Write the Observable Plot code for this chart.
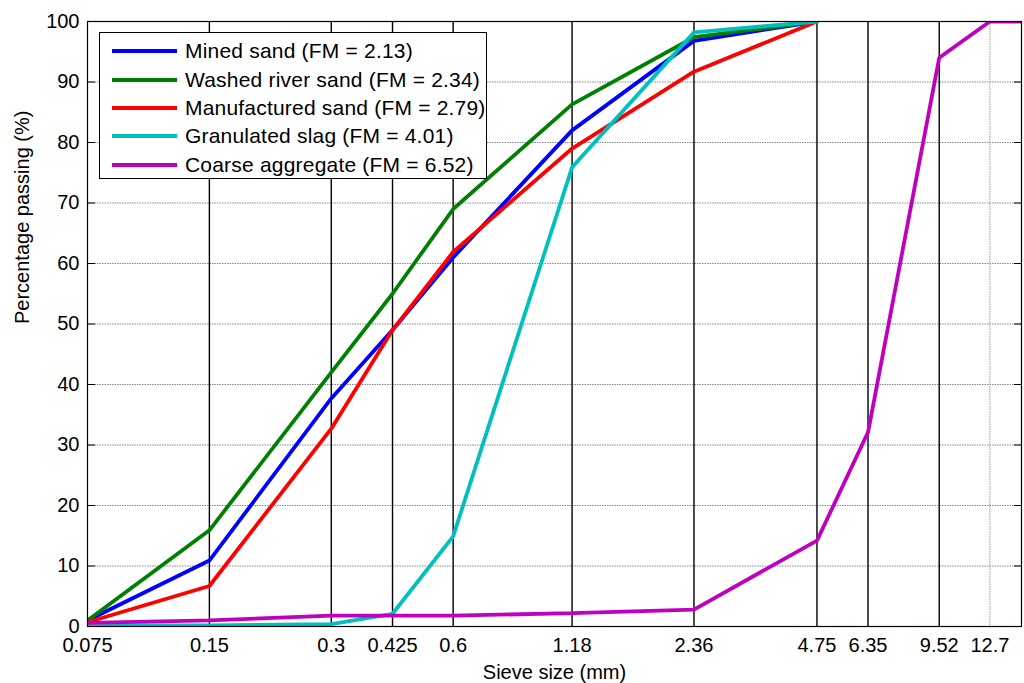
<!DOCTYPE html>
<html>
<head>
<meta charset="utf-8">
<script src="https://cdn.jsdelivr.net/npm/d3@7"></script>
<script src="https://cdn.jsdelivr.net/npm/@observablehq/plot@0.6"></script>
<style>
  html, body { margin: 0; padding: 0; background: #fff; }
  #wrap { position: relative; width: 1024px; height: 683px; font-family: "Liberation Sans", Arial, sans-serif; }
  #legend { position: absolute; left: 99px; top: 32px; width: 388px; height: 147px; border: 1px solid #000; background: #fff; box-sizing: border-box; }
  .row { position: absolute; left: 0; height: 28px; display: flex; align-items: center; }
  .sw { width: 65px; height: 4px; margin-left: 12px; margin-right: 8px; }
  .lab { font-size: 21px; color: #000; white-space: nowrap; letter-spacing: 0.2px; }
</style>
</head>
<body>
<div id="wrap"></div>
<script>
// ---- data ----
const sieveSizes = [0.075, 0.15, 0.3, 0.425, 0.6, 1.18, 2.36, 4.75];
const coarseSizes = [0.075, 0.15, 0.3, 0.425, 0.6, 1.18, 2.36, 4.75, 6.35, 9.52, 12.7, 19];
const xTicks = [0.075, 0.15, 0.3, 0.425, 0.6, 1.18, 2.36, 4.75, 6.35, 9.52, 12.7];
const yTicks = [0, 10, 20, 30, 40, 50, 60, 70, 80, 90, 100];

const minedSand     = [1.0, 10.9, 37.7, 49.0, 61.0, 82.0, 96.8, 100];
const washedSand    = [1.0, 15.9, 42.0, 55.0, 69.0, 86.3, 97.4, 100];
const manufactSand  = [0.7, 6.7, 32.7, 49.0, 61.9, 79.0, 91.7, 100];
const slag          = [0.2, 0.2, 0.4, 2.1, 14.9, 75.9, 98.2, 100];
const coarseAgg     = [0.6, 1.0, 1.8, 1.8, 1.8, 2.2, 2.8, 14.2, 32.1, 94.0, 100, 100];

const seriesNames  = ["Mined sand (FM = 2.13)", "Washed river sand (FM = 2.34)", "Manufactured sand (FM = 2.79)", "Granulated slag (FM = 4.01)", "Coarse aggregate (FM = 6.52)"];
const seriesColors = ["#0000ff", "#008000", "#ff0000", "#00bfbf", "#bf00bf"];

const blackRules = [0.15, 0.3, 0.425, 0.6, 1.18, 2.36, 4.75, 6.35, 9.52];
const grayRules = [12.7];
const yGrid = [10, 20, 30, 40, 50, 60, 70, 80, 90];

// build tables
const series = [
  {name: seriesNames[0], xs: sieveSizes, ys: minedSand},
  {name: seriesNames[1], xs: sieveSizes, ys: washedSand},
  {name: seriesNames[2], xs: sieveSizes, ys: manufactSand},
  {name: seriesNames[3], xs: sieveSizes, ys: slag},
  {name: seriesNames[4], xs: coarseSizes, ys: coarseAgg}
];
const rows = series.flatMap(s => s.xs.map((x, i) => ({name: s.name, size: x, pct: s.ys[i]})));

const tickShape = {draw(context, l) { context.moveTo(0, 0); context.lineTo(0, -l); }};

const chart = Plot.plot({
  width: 1024,
  height: 683,
  marginLeft: 87,
  marginRight: 3,
  marginTop: 21,
  marginBottom: 57,
  style: {fontFamily: "'Liberation Sans', Arial, sans-serif", fontSize: "20px", color: "#000", background: "#fff"},
  x: {type: "log", domain: [0.075, 15.2], range: [87, 1021], axis: null},
  y: {domain: [0, 100], axis: null},
  color: {domain: seriesNames, range: seriesColors},
  marks: [
    Plot.ruleY(yGrid, {y: d => d, stroke: "#888", strokeWidth: 1, strokeDasharray: "1.5,1"}),
    Plot.ruleX(grayRules, {x: d => d, stroke: "#999", strokeWidth: 1, strokeDasharray: "1.5,1"}),
    Plot.ruleX(blackRules, {x: d => d, stroke: "#000", strokeWidth: 1.4}),
    Plot.line(rows, {x: "size", y: "pct", z: "name", stroke: "name", strokeWidth: 3.8, clip: true, strokeLinejoin: "miter"}),
    // inward tick marks on left and right
    Plot.vector(yTicks, {y: d => d, frameAnchor: "left", rotate: 90, length: 7, anchor: "start", shape: tickShape, stroke: "#000", strokeWidth: 1}),
    Plot.vector(yTicks, {y: d => d, frameAnchor: "right", rotate: -90, length: 7, anchor: "start", shape: tickShape, stroke: "#000", strokeWidth: 1}),
    Plot.frame({stroke: "#000", strokeWidth: 1.2}),
    // tick labels
    Plot.text(xTicks, {x: d => d, frameAnchor: "bottom", dy: 19, text: d => String(d), fontSize: 20, lineAnchor: "middle", textAnchor: "middle"}),
    Plot.text(yTicks, {y: d => d, frameAnchor: "left", dx: -8, text: d => String(d), fontSize: 20, textAnchor: "end"}),
    Plot.text(["Sieve size (mm)"], {frameAnchor: "bottom", dy: 52, text: d => d, fontSize: 20, lineAnchor: "bottom"}),
    Plot.text(["Percentage passing (%)"], {frameAnchor: "left", dx: -65, rotate: -90, text: d => d, fontSize: 20})
  ]
});

const wrap = document.getElementById("wrap");
wrap.appendChild(chart);

// legend
const legend = document.createElement("div");
legend.id = "legend";
const rowTops = [4, 33, 61, 89, 118];
seriesNames.forEach((n, i) => {
  const r = document.createElement("div");
  r.className = "row";
  r.style.top = rowTops[i] + "px";
  const sw = document.createElement("div");
  sw.className = "sw";
  sw.style.background = seriesColors[i];
  const lab = document.createElement("span");
  lab.className = "lab";
  lab.textContent = n;
  r.appendChild(sw); r.appendChild(lab);
  legend.appendChild(r);
});
wrap.appendChild(legend);
</script>
</body>
</html>
